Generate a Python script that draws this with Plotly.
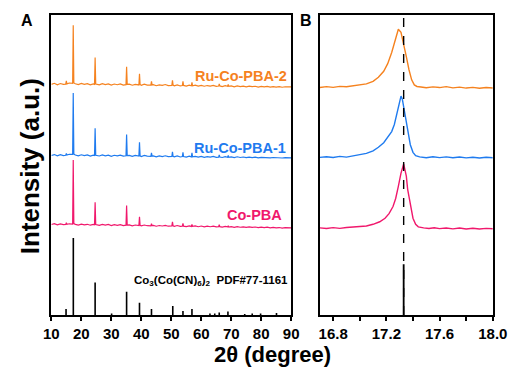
import plotly.graph_objects as go

# ---------------- Panel A data (2theta, intensity in arbitrary offset units) ----------------
pba2_x = [10, 11, 12, 13, 14, 14.8, 15.0, 15.2, 16, 17.1, 17.3, 17.5, 18, 19, 20, 21, 22, 23, 24,
          24.4, 24.6, 24.8, 26, 27, 28, 29, 30, 31, 32, 33, 34, 34.9, 35.1, 35.3, 36, 37, 38,
          39.2, 39.4, 39.6, 40, 41, 42, 43.2, 43.4, 43.6, 44, 45, 46, 47, 48, 49, 50.2, 50.4, 50.6,
          51, 52, 53, 53.7, 53.9, 54.1, 55, 56, 56.7, 56.9, 57.1, 58, 59, 60, 61, 62, 63, 64, 65,
          65.8, 66, 66.2, 67, 68, 68.8, 69, 69.2, 70, 71, 72, 73, 74, 75, 76, 77, 78, 79, 80, 81,
          82, 83, 84, 85, 86, 87, 88, 89, 90]
pba2_y = [227.5, 228.6, 227.2, 228.4, 227.6, 227.8, 231, 228.0, 228.9, 228.5, 286, 229,
          228.2, 227.3, 228.5, 227.6, 228.3, 227.1, 228.0, 227.6, 254, 227.9,
          227.0, 228.2, 227.4, 228.0, 226.8, 227.9, 227.2, 228.1, 226.9, 227.3, 245, 227.5,
          227.8, 226.7, 227.6, 227.0, 238, 227.4, 226.6, 227.7, 226.9, 226.8, 230.5, 227.0,
          227.3, 226.2, 227.1, 226.5, 227.4, 226.3, 226.6, 231.5, 226.8, 226.2, 227.1, 226.0,
          226.4, 230.5, 226.5, 225.9, 226.8, 226.2, 229.5, 226.1,
          226.7, 225.8, 226.6, 225.7, 226.4, 225.9, 226.5, 225.6, 225.9, 228, 226.0, 225.4, 226.3,
          225.7, 227.5, 225.6, 226.1, 225.2, 226.0, 225.4, 225.9, 225.1, 225.8, 225.3, 225.7, 224.9,
          225.6, 225.0, 225.5, 224.8, 225.4, 224.9, 225.3, 224.7, 225.2, 224.8, 225.1]

pba1_x = pba2_x
pba1_y = [157.4, 158.3, 157.1, 158.2, 157.3, 157.6, 159.5, 157.8, 158.6, 158.4, 219, 158.8,
          157.9, 157.0, 158.1, 157.3, 158.0, 156.8, 157.7, 157.4, 184.3, 157.6,
          156.9, 157.9, 157.1, 157.8, 156.6, 157.6, 157.0, 157.8, 156.7, 157.1, 178, 157.2,
          157.5, 156.5, 157.4, 156.8, 170.3, 157.1, 156.4, 157.4, 156.7, 156.6, 160, 156.8,
          157.0, 156.1, 156.9, 156.3, 157.1, 156.2, 156.5, 161, 156.6, 156.1, 156.9, 155.9,
          156.3, 160.5, 156.4, 155.8, 156.7, 156.0, 160, 156.0,
          156.5, 155.7, 156.4, 155.6, 156.3, 155.8, 156.4, 155.6, 155.8, 158, 155.9, 155.4, 156.2,
          155.6, 157.5, 155.5, 156.0, 155.3, 156.1, 155.4, 155.9, 155.2, 155.8, 155.3, 155.7, 155.1,
          155.6, 155.2, 155.5, 155.0, 155.4, 155.1, 155.3, 154.9, 155.2, 155.0, 155.1]

copba_x = pba2_x
copba_y = [89.3, 90.1, 89.0, 89.9, 89.2, 89.4, 91, 89.5, 90.0, 89.8, 153, 90.2,
           89.4, 88.7, 89.6, 88.9, 89.5, 88.6, 89.3, 89.0, 111.3, 89.2,
           88.5, 89.4, 88.7, 89.3, 88.3, 89.2, 88.5, 89.2, 88.2, 88.6, 108, 88.7,
           88.9, 88.0, 88.8, 88.2, 97, 88.4, 87.9, 88.8, 88.1, 88.0, 90, 88.2,
           88.4, 87.6, 88.3, 87.8, 88.4, 87.6, 87.9, 92, 88.0, 87.5, 88.3, 87.4,
           87.6, 90.5, 87.7, 87.3, 88.0, 87.4, 89.5, 87.4,
           87.9, 87.1, 87.8, 87.0, 87.6, 87.1, 87.7, 86.9, 87.1, 89, 87.2, 86.7, 87.4,
           86.9, 88, 86.8, 87.2, 86.5, 87.2, 86.6, 87.0, 86.4, 86.9, 86.4, 86.8, 86.2,
           86.7, 86.2, 86.6, 86.0, 86.5, 86.0, 86.3, 85.8, 86.2, 85.9, 86.0]

# Reference pattern Co3(Co(CN)6)2 PDF#77-1161
ref_pos = [14.9, 17.33, 24.6, 30.1, 35.1, 39.4, 43.4, 50.5, 53.9, 56.9, 62.9, 64.5, 66.0,
           68.9, 74.5, 77.0, 79.8, 85.1]
ref_int = [6, 76, 32, 1.5, 23, 12, 6, 9, 4, 6, 1.5, 1.5, 2.5, 3.5, 1, 1.5, 1.5, 2]

# ---------------- Panel B data (zoom around the (200) reflection) ----------------
b_pba2_x = [16.70, 16.75, 16.80, 16.85, 16.90, 16.95, 17.00, 17.05, 17.10, 17.14, 17.18, 17.21,
            17.24, 17.27, 17.29, 17.31, 17.33, 17.35, 17.37, 17.39, 17.41, 17.43, 17.46, 17.50,
            17.55, 17.60, 17.65, 17.70, 17.75, 17.80, 17.85, 17.90, 17.95, 18.00]
b_pba2_y = [224.5, 225.3, 224.6, 225.6, 225.2, 226.3, 226.8, 228.0, 230.5, 234.5, 240.5, 248,
            259, 273, 282, 279, 268, 255, 242, 232, 227, 225.5, 225.0, 224.2,
            225.1, 224.4, 225.3, 224.1, 224.8, 223.9, 224.6, 223.8, 224.5, 224.0]

b_pba1_x = [16.70, 16.75, 16.80, 16.85, 16.90, 16.95, 17.00, 17.05, 17.10, 17.14, 17.18, 17.21,
            17.24, 17.26, 17.28, 17.30, 17.31, 17.32, 17.34, 17.36, 17.38, 17.40, 17.42, 17.45,
            17.50, 17.55, 17.60, 17.65, 17.70, 17.75, 17.80, 17.85, 17.90, 17.95, 18.00]
b_pba1_y = [155.5, 156.2, 155.4, 156.5, 155.8, 157.0, 157.8, 159.5, 162, 165.5, 170, 175,
            181, 188, 200, 212, 216, 213, 198, 182, 168, 160.5, 157.2, 156,
            155.2, 156.1, 155.3, 156.0, 155.1, 155.9, 155.0, 155.7, 154.9, 155.6, 155.2]

b_copba_x = [16.70, 16.75, 16.80, 16.85, 16.90, 16.95, 17.00, 17.05, 17.10, 17.15, 17.19, 17.22,
             17.25, 17.27, 17.29, 17.31, 17.33, 17.35, 17.36, 17.38, 17.40, 17.42, 17.44, 17.48,
             17.52, 17.56, 17.60, 17.65, 17.70, 17.75, 17.80, 17.85, 17.90, 17.95, 18.00]
b_copba_y = [86.0, 85.4, 86.2, 85.5, 86.3, 86.6, 87.0, 87.8, 89.5, 92, 95.5, 100,
             107, 115, 127, 140, 149, 137, 124, 108, 95.5, 89.5, 87, 86,
             85.3, 86.1, 85.2, 85.9, 85.0, 85.8, 84.9, 85.6, 84.8, 85.5, 85.1]

b_ref_pos = [17.33]
b_ref_int = [50]

# ---------------- styling ----------------
ORANGE = "#F5821F"
BLUE = "#1F7BEF"
PINK = "#F0186C"
FONT = "Arial, Liberation Sans, sans-serif"
W, H = 517, 370

fig = go.Figure()

for xs, ys, c in [(pba2_x, pba2_y, ORANGE), (pba1_x, pba1_y, BLUE), (copba_x, copba_y, PINK)]:
    fig.add_trace(go.Scatter(x=xs, y=ys, mode="lines", line=dict(color=c, width=1.2),
                             xaxis="x", yaxis="y", showlegend=False, hoverinfo="skip"))

sx, sy = [], []
for p, h in zip(ref_pos, ref_int):
    sx += [p, p, None]
    sy += [0, h, None]
fig.add_trace(go.Scatter(x=sx, y=sy, mode="lines", line=dict(color="black", width=1.6),
                         xaxis="x", yaxis="y", showlegend=False, hoverinfo="skip"))

for xs, ys, c in [(b_pba2_x, b_pba2_y, ORANGE), (b_pba1_x, b_pba1_y, BLUE), (b_copba_x, b_copba_y, PINK)]:
    fig.add_trace(go.Scatter(x=xs, y=ys, mode="lines", line=dict(color=c, width=1.4),
                             xaxis="x2", yaxis="y2", showlegend=False, hoverinfo="skip"))

bx, by = [], []
for p, h in zip(b_ref_pos, b_ref_int):
    bx += [p, p, None]
    by += [0, h, None]
fig.add_trace(go.Scatter(x=bx, y=by, mode="lines", line=dict(color="black", width=1.8),
                         xaxis="x2", yaxis="y2", showlegend=False, hoverinfo="skip"))

# dashed guide line at the reference peak position
fig.add_shape(type="line", xref="x2", yref="y2 domain", x0=b_ref_pos[0], x1=b_ref_pos[0],
              y0=0, y1=1, line=dict(color="black", width=1.4, dash="dash"))

y_top = 1 - 7 / H
y_bot = 1 - 307 / H
axis_common = dict(showline=True, linecolor="black", linewidth=1.5, mirror=True,
                   ticks="outside", ticklen=4, tickwidth=1.5, tickcolor="black",
                   showgrid=False, zeroline=False,
                   tickfont=dict(family=FONT, size=15, color="black", weight="bold"))

fig.update_layout(
    width=W, height=H,
    margin=dict(l=0, r=0, t=0, b=0),
    paper_bgcolor="white", plot_bgcolor="white",
    xaxis=dict(domain=[37 / W, 288 / W], range=[10, 90], tick0=10, dtick=10, anchor="y",
               **axis_common),
    yaxis=dict(domain=[y_bot, y_top], range=[0, 296], showticklabels=False, ticks="",
               showline=True, linecolor="black", linewidth=1.5, mirror=True,
               showgrid=False, zeroline=False, anchor="x"),
    xaxis2=dict(domain=[318 / W, 499 / W], range=[16.7, 18.0], tick0=16.8, dtick=0.4,
                tickformat=".1f", anchor="y2",
                minor=dict(dtick=0.2, tick0=16.8, ticks="outside", ticklen=4, tickwidth=1.5,
                           tickcolor="black", showgrid=False),
                **axis_common),
    yaxis2=dict(domain=[y_bot, y_top], range=[0, 296], showticklabels=False, ticks="",
                showline=True, linecolor="black", linewidth=1.5, mirror=True,
                showgrid=False, zeroline=False, anchor="x2"),
)

def ann(text, x, y, size, color="black", xanchor="center", textangle=0):
    fig.add_annotation(text=text, x=x / W, y=1 - y / H, xref="paper", yref="paper",
                       showarrow=False, xanchor=xanchor, yanchor="middle", textangle=textangle,
                       font=dict(family=FONT, size=size, color=color, weight="bold"))

ann("A", 12, 13, 16)
ann("B", 304, 13, 16)
ann("Intensity (a.u.)", 15, 158, 26, textangle=-90)
ann("2θ (degree)", 268, 346, 22)
ann("Ru-Co-PBA-2", 286, 68, 14.5, ORANGE, xanchor="right")
ann("Ru-Co-PBA-1", 285, 140, 14.5, BLUE, xanchor="right")
ann("Co-PBA", 281, 207, 14.5, PINK, xanchor="right")
ann("Co<sub>3</sub>(Co(CN)<sub>6</sub>)<sub>2</sub>  PDF#77-1161", 287, 273, 11.5, xanchor="right")

fig.write_html("out.html")
